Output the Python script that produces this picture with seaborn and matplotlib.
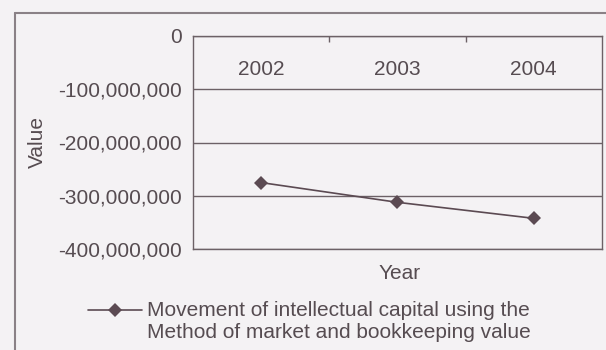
import numpy as np
import pandas as pd
import matplotlib
matplotlib.use("Agg")
import matplotlib.pyplot as plt
import seaborn as sns
from matplotlib.lines import Line2D
from matplotlib.legend_handler import HandlerLine2D
from matplotlib.ticker import FuncFormatter

# Yearly movement of intellectual capital (market vs. bookkeeping value)
years = ["2002", "2003", "2004"]
movement = [-275_000_000, -312_000_000, -342_000_000]
value_ticks = [0, -100_000_000, -200_000_000, -300_000_000, -400_000_000]
series_label = ("Movement of intellectual capital using the\n"
                "Method of market and bookkeeping value")

sns.set_theme(style="white")
plt.rcParams["font.family"] = ["Liberation Sans", "DejaVu Sans"]

PAPER = "#f4f2f4"
INK = "#564c51"
RULE = "#6c6166"
SERIES = "#5b4a52"
FS = 15.0


class FirstLineHandler(HandlerLine2D):
    """Line handle lifted to sit beside the first line of a two-line label."""

    def __init__(self, lift, **kw):
        super().__init__(**kw)
        self.lift = lift

    def create_artists(self, legend, orig_handle, xdescent, ydescent,
                       width, height, fontsize, trans):
        artists = super().create_artists(legend, orig_handle, xdescent,
                                         ydescent, width, height, fontsize,
                                         trans)
        for a in artists:
            a.set_ydata(np.asarray(a.get_ydata(), dtype=float) + self.lift)
        return artists


W, H = 606, 350
fig = plt.figure(figsize=(W / 100, H / 100), dpi=100, facecolor=PAPER)
left, right, top, bottom = 192.7, 602.0, 35.7, 249.3
ax = fig.add_axes([left / W, 1 - bottom / H, (right - left) / W, (bottom - top) / H])
ax.set_facecolor(PAPER)

df = pd.DataFrame({"Year": years, "Value": movement})
sns.lineplot(data=df, x="Year", y="Value", marker="D", markersize=7,
             markeredgewidth=0, color=SERIES, linewidth=1.2, ax=ax,
             label=series_label)

# value axis
ax.set_ylim(value_ticks[-1], value_ticks[0])
ax.set_yticks(value_ticks)
ax.yaxis.set_major_formatter(FuncFormatter(lambda v, _: f"{v:,.0f}"))
ax.tick_params(axis="y", length=3, width=1, color=RULE, pad=5,
               labelsize=FS, labelcolor=INK)
ax.yaxis.grid(True, color=RULE, linewidth=1)
ax.xaxis.grid(False)

# category axis sits at zero (top); labels hang just below it
ax.set_xlim(-0.5, len(years) - 0.5)
ax.xaxis.set_ticks_position("top")
ax.set_xticks(range(len(years)))
ax.set_xticklabels(years)
ax.set_xticks(np.arange(0.5, len(years) - 1, 1.0), minor=True)
ax.tick_params(axis="x", which="major", length=0, pad=-31, labelsize=FS,
               labelcolor=INK, top=True, labeltop=True, bottom=False,
               labelbottom=False)
ax.tick_params(axis="x", which="minor", length=4, width=1, direction="in",
               color=RULE, top=True, bottom=False)

for sp in ax.spines.values():
    sp.set_color(RULE)
    sp.set_linewidth(1)

ax.set_ylabel("Value", fontsize=FS, color=INK)
ax.yaxis.set_label_coords((47 - left) / (right - left), 0.5)
ax.set_xlabel("Year", fontsize=FS, color=INK, va="top")
ax.xaxis.set_label_position("bottom")
ax.xaxis.set_label_coords(0.506, (bottom - 264) / (bottom - top))

handles, labels = ax.get_legend_handles_labels()
leg = ax.legend(handles, labels, loc="upper left",
                bbox_to_anchor=(88 / W, 1 - 301 / H),
                bbox_transform=fig.transFigure, frameon=False, fontsize=FS,
                borderpad=0, borderaxespad=0, handlelength=2.6,
                handletextpad=0.25, numpoints=1,
                handler_map={handles[0]: FirstLineHandler(lift=8.5,
                                                          numpoints=1)})
for t in leg.get_texts():
    t.set_color(INK)

# page frame around the figure
frame_kw = dict(transform=fig.transFigure, color="#8a8186", linewidth=1.5)
fig.add_artist(Line2D([15 / W, 15 / W], [0, 1 - 13 / H], **frame_kw))
fig.add_artist(Line2D([15 / W, 1], [1 - 13 / H, 1 - 13 / H], **frame_kw))

fig.savefig("out.png", dpi=100, facecolor=PAPER)
